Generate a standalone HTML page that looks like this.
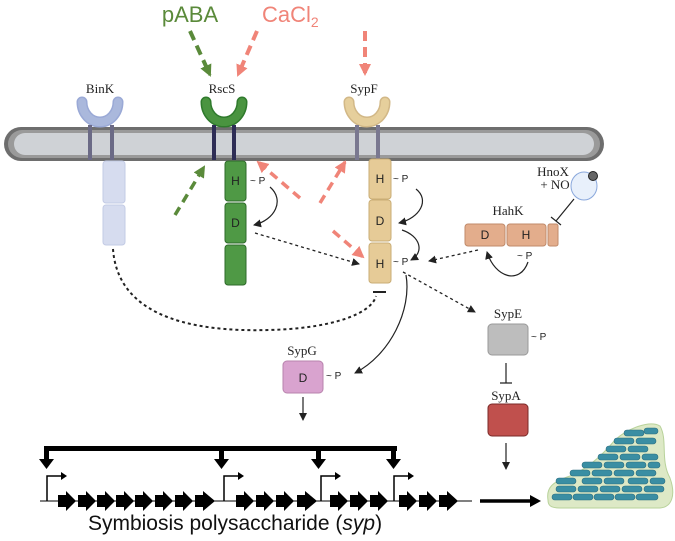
<!DOCTYPE html>
<html><head><meta charset="utf-8"><style>
body{margin:0;background:#fff}
svg{display:block}
text{font-family:"Liberation Serif",serif;font-size:13px;fill:#222}
.s{font-family:"Liberation Sans",sans-serif;font-size:10px}
</style></head><body>
<svg width="675" height="541" viewBox="0 0 675 541" xmlns="http://www.w3.org/2000/svg">
<defs>
<marker id="ak" markerWidth="8" markerHeight="8" refX="7" refY="4" orient="auto" markerUnits="userSpaceOnUse"><path d="M0,0 L8,4 L0,8 z" fill="#222"/></marker>
<marker id="ag" markerWidth="12" markerHeight="12" refX="10" refY="6" orient="auto" markerUnits="userSpaceOnUse"><path d="M0,0 L12,6 L0,12 z" fill="#5a8a3a"/></marker>
<marker id="ap" markerWidth="12" markerHeight="12" refX="10" refY="6" orient="auto" markerUnits="userSpaceOnUse"><path d="M0,0 L12,6 L0,12 z" fill="#f08478"/></marker>
</defs>
<text x="190" y="22" text-anchor="middle" style="font-family:'Liberation Sans',sans-serif;font-size:22px;fill:#5a8a3a">pABA</text>
<text x="262" y="22" style="font-family:'Liberation Sans',sans-serif;font-size:22px;fill:#f08478">CaCl<tspan font-size="14" dy="5">2</tspan></text>
<g stroke-width="4" fill="none" stroke-dasharray="10,6">
<path d="M190,31 L210,75" stroke="#5a8a3a" marker-end="url(#ag)"/>
<path d="M257,31 L238,75" stroke="#f08478" marker-end="url(#ap)"/>
<path d="M365,31 L365,74" stroke="#f08478" marker-end="url(#ap)"/>
</g>
<rect x="4" y="127" width="600" height="34" rx="17" fill="#6e6e6e"/>
<rect x="8" y="130" width="592" height="28" rx="14" fill="#9a9a9a"/>
<rect x="14" y="133" width="580" height="22" rx="11" fill="#cfd2d6"/>
<text x="100" y="93" text-anchor="middle">BinK</text>
<text x="222" y="93" text-anchor="middle">RscS</text>
<text x="364" y="93" text-anchor="middle">SypF</text>
<g fill="none" stroke-linecap="round">
<path d="M82,102 A18,20 0 0 0 118,102" stroke="#9aa9d6" stroke-width="11"/>
<path d="M82,102 A18,20 0 0 0 118,102" stroke="#aab8dc" stroke-width="8"/>
<path d="M206,102 A18,20 0 0 0 242,102" stroke="#2f7a2c" stroke-width="11"/>
<path d="M206,102 A18,20 0 0 0 242,102" stroke="#4a9440" stroke-width="8"/>
<path d="M349,102 A18,20 0 0 0 385,102" stroke="#d2b887" stroke-width="11"/>
<path d="M349,102 A18,20 0 0 0 385,102" stroke="#e6cf9c" stroke-width="8"/>
</g>
<g stroke-width="4" fill="none">
<path d="M90,125 V160 M112,125 V160" stroke="#6b6a86"/>
<path d="M214,125 V160 M234,125 V160" stroke="#2e2d55"/>
<path d="M357,125 V160 M378,125 V160" stroke="#7a7890"/>
</g>
<rect x="103" y="161" width="22" height="42" rx="3" fill="#d6dcef" stroke="#c3cbe5"/>
<rect x="103" y="205" width="22" height="40" rx="3" fill="#d6dcef" stroke="#c3cbe5"/>
<g fill="#4f9945" stroke="#2e6a2a" stroke-width="1">
<rect x="225" y="161" width="21" height="40" rx="3"/>
<rect x="225" y="203" width="21" height="40" rx="3"/>
<rect x="225" y="245" width="21" height="40" rx="3"/>
</g>
<text class="s" x="235.5" y="185" text-anchor="middle" style="font-size:12px">H</text>
<text class="s" x="235.5" y="227" text-anchor="middle" style="font-size:12px">D</text>
<text class="s" x="250" y="184">~ P</text>
<g fill="#e6cb97" stroke="#c9ad76" stroke-width="1">
<rect x="369" y="159" width="22" height="40" rx="3"/>
<rect x="369" y="200" width="22" height="41" rx="3"/>
<rect x="369" y="243" width="22" height="40" rx="3"/>
</g>
<text class="s" x="380" y="183" text-anchor="middle" style="font-size:12px">H</text>
<text class="s" x="380" y="225" text-anchor="middle" style="font-size:12px">D</text>
<text class="s" x="380" y="268" text-anchor="middle" style="font-size:12px">H</text>
<text class="s" x="393" y="182">~ P</text>
<text class="s" x="393" y="265">~ P</text>
<g stroke="#222" stroke-width="1.2" fill="none">
<path d="M270,187 C285,200 275,220 254,225" marker-end="url(#ak)"/>
<path d="M416,189 C430,200 420,218 399,223" marker-end="url(#ak)"/>
<path d="M402,230 C420,236 425,252 411,260" marker-end="url(#ak)"/>
<path d="M528,262 C520,285 495,278 487,252" marker-end="url(#ak)"/>
<path d="M406,275 C412,310 390,355 355,373" marker-end="url(#ak)"/>
<path d="M574,199 L556,221 M551,217 L561,225"/>
<path d="M506,363 V383 M500,383 H512"/>
<path d="M303,397 V420" marker-end="url(#ak)"/>
<path d="M506,443 V469" marker-end="url(#ak)"/>
</g>
<g stroke="#222" stroke-width="1.3" fill="none" stroke-dasharray="3,3">
<path d="M255,233 L359,264" marker-end="url(#ak)"/>
<path d="M478,250 L429,261" marker-end="url(#ak)"/>
<path d="M403,272 L475,312" marker-end="url(#ak)"/>
</g>
<path d="M113,249 C118,320 200,335 290,329 C340,325 372,312 376,296" stroke="#222" stroke-width="2" fill="none" stroke-dasharray="3,3"/>
<path d="M373,292 H386" stroke="#222" stroke-width="2"/>
<g stroke-width="3.5" fill="none" stroke-dasharray="9,6">
<path d="M175,215 L204,167" stroke="#5a8a3a" marker-end="url(#ag)"/>
<path d="M300,198 L258,162" stroke="#f08478" marker-end="url(#ap)"/>
<path d="M320,203 L345,162" stroke="#f08478" marker-end="url(#ap)"/>
<path d="M333,231 L363,257" stroke="#f08478" marker-end="url(#ap)"/>
</g>
<text x="553" y="176" text-anchor="middle">HnoX</text>
<text x="555" y="189" text-anchor="middle">+ NO</text>
<ellipse cx="584" cy="186" rx="13" ry="14" fill="#e8f0fb" stroke="#8aa8dc"/>
<circle cx="593" cy="176" r="4.5" fill="#666" stroke="#222"/>
<text x="508" y="215" text-anchor="middle">HahK</text>
<g fill="#e3ad8c" stroke="#c08a6a">
<rect x="465" y="224" width="40" height="22" rx="3"/>
<rect x="507" y="224" width="39" height="22" rx="3"/>
<rect x="548" y="224" width="10" height="22" rx="2"/>
</g>
<text class="s" x="485" y="239" text-anchor="middle" style="font-size:12px">D</text>
<text class="s" x="526" y="239" text-anchor="middle" style="font-size:12px">H</text>
<text class="s" x="517" y="259">~ P</text>
<text x="302" y="355" text-anchor="middle">SypG</text>
<rect x="283" y="361" width="40" height="32" rx="4" fill="#d9a3cf" stroke="#b883ad"/>
<text class="s" x="303" y="382" text-anchor="middle" style="font-size:12px">D</text>
<text class="s" x="326" y="379">~ P</text>
<text x="508" y="318" text-anchor="middle">SypE</text>
<rect x="488" y="324" width="40" height="31" rx="4" fill="#bdbdbd" stroke="#999"/>
<text class="s" x="531" y="340">~ P</text>
<text x="506" y="400" text-anchor="middle">SypA</text>
<rect x="488" y="404" width="40" height="32" rx="4" fill="#c0504d" stroke="#7a2a28"/>
<g fill="#000">
<rect x="44" y="446" width="353" height="5"/>
<rect x="44" y="446" width="5" height="14"/><path d="M39,459 H54 L46.5,469 z"/>
<rect x="219" y="446" width="5" height="14"/><path d="M214,459 H229 L221.5,469 z"/>
<rect x="316" y="446" width="5" height="14"/><path d="M311,459 H326 L318.5,469 z"/>
<rect x="391" y="446" width="5" height="14"/><path d="M386,459 H401 L393.5,469 z"/>
</g>
<path d="M40,501 H472" stroke="#000" stroke-width="1"/>
<g stroke="#000" stroke-width="1.5" fill="none">
<path d="M47,501 V476 H62"/><path d="M224,501 V476 H239"/><path d="M321,501 V476 H336"/><path d="M394,501 V476 H409"/>
</g>
<g fill="#000">
<path d="M61,472 L67,476 L61,480z"/><path d="M238,472 L244,476 L238,480z"/><path d="M335,472 L341,476 L335,480z"/><path d="M408,472 L414,476 L408,480z"/>
</g>
<path d="M480,501 H532" stroke="#000" stroke-width="3.5"/>
<path d="M530,495 L541,501 L530,507z" fill="#000"/>
<text x="235" y="530" text-anchor="middle" style="font-family:'Liberation Sans',sans-serif;font-size:21px;fill:#111">Symbiosis polysaccharide (<tspan font-style="italic">syp</tspan>)</text>
<path d="M548,500 C546,488 552,482 570,476 C590,468 605,452 615,440 C628,428 650,420 660,426 C668,440 660,460 670,478 C676,495 672,507 660,508 L560,508 C550,508 548,505 548,500 z" fill="#dde9c6" stroke="#b8d29a"/>
<g fill="#3a8ea3" stroke="#2a6d80" stroke-width="0.6">
<rect x="552" y="494" width="20" height="6" rx="3"/><rect x="573" y="494" width="20" height="6" rx="3"/><rect x="594" y="494" width="20" height="6" rx="3"/><rect x="615" y="494" width="20" height="6" rx="3"/><rect x="636" y="494" width="22" height="6" rx="3"/>
<rect x="556" y="486" width="20" height="6" rx="3"/><rect x="578" y="486" width="20" height="6" rx="3"/><rect x="600" y="486" width="20" height="6" rx="3"/><rect x="622" y="486" width="20" height="6" rx="3"/><rect x="644" y="486" width="20" height="6" rx="3"/>
<rect x="556" y="478" width="20" height="6" rx="3"/><rect x="582" y="478" width="20" height="6" rx="3"/><rect x="604" y="478" width="20" height="6" rx="3"/><rect x="628" y="478" width="20" height="6" rx="3"/><rect x="650" y="478" width="15" height="6" rx="3"/>
<rect x="570" y="470" width="20" height="6" rx="3"/><rect x="592" y="470" width="20" height="6" rx="3"/><rect x="614" y="470" width="20" height="6" rx="3"/><rect x="636" y="470" width="20" height="6" rx="3"/>
<rect x="582" y="462" width="20" height="6" rx="3"/><rect x="604" y="462" width="20" height="6" rx="3"/><rect x="626" y="462" width="20" height="6" rx="3"/><rect x="648" y="462" width="12" height="6" rx="3"/>
<rect x="598" y="454" width="20" height="6" rx="3"/><rect x="620" y="454" width="20" height="6" rx="3"/><rect x="642" y="454" width="16" height="6" rx="3"/>
<rect x="606" y="446" width="20" height="6" rx="3"/><rect x="628" y="446" width="20" height="6" rx="3"/>
<rect x="614" y="438" width="20" height="6" rx="3"/><rect x="636" y="438" width="20" height="6" rx="3"/>
<rect x="624" y="430" width="20" height="6" rx="3"/><rect x="644" y="428" width="14" height="6" rx="3"/>
</g>
<g fill="#000">
<path d="M58,495 H66 V491 L76,501 L66,511 V507 H58z"/>
<path d="M78,495 H86 V491 L96,501 L86,511 V507 H78z"/>
<path d="M97,495 H105 V491 L115,501 L105,511 V507 H97z"/>
<path d="M116,495 H124 V491 L134,501 L124,511 V507 H116z"/>
<path d="M135,495 H143 V491 L153,501 L143,511 V507 H135z"/>
<path d="M155,495 H163 V491 L173,501 L163,511 V507 H155z"/>
<path d="M175,495 H183 V491 L193,501 L183,511 V507 H175z"/>
<path d="M195,495 H203 V491 L215,501 L203,511 V507 H195z"/>
<path d="M236,495 H244 V491 L254,501 L244,511 V507 H236z"/>
<path d="M256,495 H264 V491 L274,501 L264,511 V507 H256z"/>
<path d="M276,495 H284 V491 L294,501 L284,511 V507 H276z"/>
<path d="M297,495 H305 V491 L317,501 L305,511 V507 H297z"/>
<path d="M330,495 H338 V491 L348,501 L338,511 V507 H330z"/>
<path d="M350,495 H358 V491 L368,501 L358,511 V507 H350z"/>
<path d="M370,495 H378 V491 L388,501 L378,511 V507 H370z"/>
<path d="M399,495 H407 V491 L417,501 L407,511 V507 H399z"/>
<path d="M419,495 H427 V491 L437,501 L427,511 V507 H419z"/>
<path d="M439,495 H447 V491 L458,501 L447,511 V507 H439z"/>
</g>
</svg>
</body></html>
